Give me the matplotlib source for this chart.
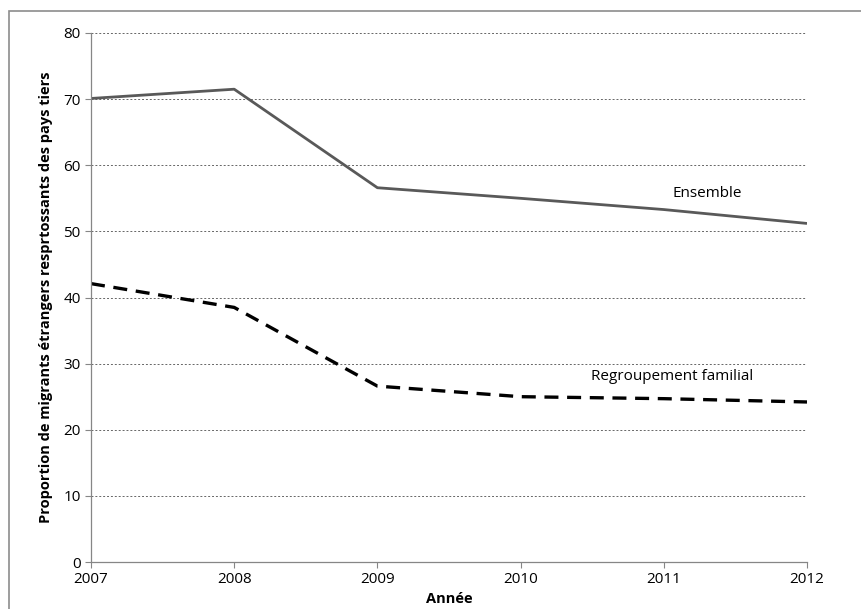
import matplotlib.pyplot as plt
from matplotlib.patches import Rectangle

years = [2007, 2008, 2009, 2010, 2011, 2012]
ensemble = [70.1, 71.5, 56.6, 55.0, 53.3, 51.2]
regroupement = [42.1, 38.5, 26.6, 25.0, 24.7, 24.2]
yticks = [0, 10, 20, 30, 40, 50, 60, 70, 80]

plt.rcParams['font.family'] = ['Open Sans', 'DejaVu Sans']

fig = plt.figure(figsize=(8.61, 6.09), dpi=100)
ax = fig.add_axes([91 / 861, 1 - 562 / 609, (807 - 91) / 861, (562 - 33) / 609])

# outer chart frame
fig.patches.append(Rectangle((9 / 861, -0.1), 1.2, 1 - 11 / 609 + 0.1,
                             transform=fig.transFigure, fill=False,
                             edgecolor='#8c8c8c', lw=1.2))

ax.plot(years, ensemble, color='#595959', lw=2.0, solid_capstyle='butt')
ax.plot(years, regroupement, color='black', lw=2.4, linestyle=(0, (4.2, 2.6)))

ax.set_xlim(2007, 2012)
ax.set_ylim(0, 80)
ax.set_xticks(years)
ax.set_yticks(yticks)
ax.yaxis.grid(True, color='#666666', linestyle=(0, (2, 2)), lw=0.7)
ax.set_axisbelow(True)

for s in ['top', 'right']:
    ax.spines[s].set_visible(False)
for s in ['left', 'bottom']:
    ax.spines[s].set_color('#868686')
    ax.spines[s].set_linewidth(0.9)
ax.tick_params(axis='both', colors='#868686', labelcolor='black', labelsize=11, length=4, width=0.8)
ax.tick_params(axis='x', pad=3)

ax.set_xlabel('Année', fontsize=10.5, fontweight='bold', labelpad=4)
ax.set_ylabel('Proportion de migrants étrangers resprtossants des pays tiers',
              fontsize=10.5, fontweight='bold', labelpad=7)

ax.text(2011.3, 55.8, 'Ensemble', fontsize=11, ha='center', va='center')
ax.text(2011.06, 28.0, 'Regroupement familial', fontsize=11, ha='center', va='center')

fig.savefig('out.png', dpi=100)
